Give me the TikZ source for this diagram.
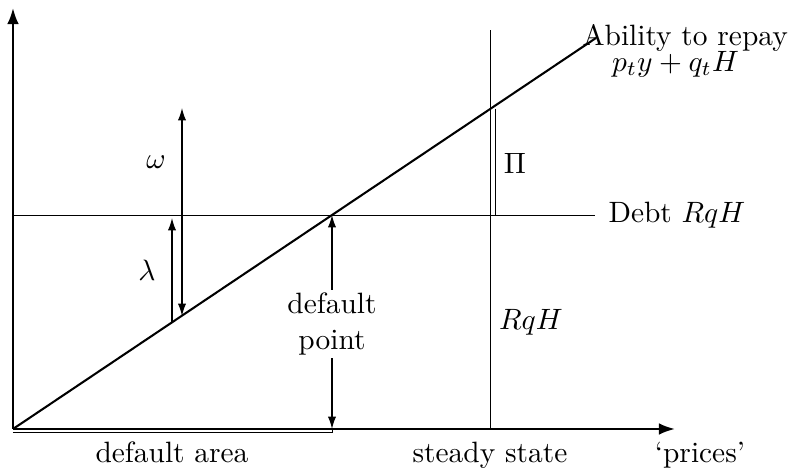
\documentclass[tikz,border=0pt]{standalone}
\usetikzlibrary{arrows.meta,calc}
\tikzset{axis/.style={line width=0.8pt,-{Latex[length=5.5pt,width=4pt]}},
  repay/.style={line width=0.7pt},
  level/.style={line width=0.3pt},
  dimarrow/.style={line width=0.45pt,-{Latex[length=4.2pt,width=2.8pt]}},
  twoway/.style={line width=0.45pt,{Latex[length=4.2pt,width=2.8pt]}-{Latex[length=4.2pt,width=2.8pt]}}}

\begin{document}
\begin{tikzpicture}[x=0.34pt,y=0.34pt]
\useasboundingbox (-13,-41) rectangle (780,429);
% axes and the ability to repay
\coordinate (O) at (0,0);
\coordinate (ytop) at (0,421);
\coordinate (xend) at (662,0);
\coordinate (A) at (583,391);
\draw[axis] (O) -- (ytop);
\draw[axis] (O) -- (xend);
\draw[repay] (O) -- (A);
% debt level and steady state
\coordinate (D) at (319,214);
\coordinate (dl) at (0,214);
\coordinate (dr) at (582,214);
\coordinate (ssb) at (477,0);
\coordinate (sst) at (477,399);
\coordinate (pitop) at (482,320);
\coordinate (pibot) at (482,214);
\coordinate (Dfoot) at (319,0);
\coordinate (al) at (0,-3);
\coordinate (ar) at (319,-3);
\draw[level] (dl) -- (dr);
\draw[level] (ssb) -- (sst);
\draw[level] (pitop) -- (pibot);
\draw[level] (al) -- (ar) -- (Dfoot);
% gaps
\coordinate (wbot) at (169,113);
\coordinate (wtop) at (169,321);
\coordinate (lbot) at (159,107);
\coordinate (ltop) at (159,211);
\draw[twoway] (wbot) -- (wtop);
\draw[dimarrow] (lbot) -- (ltop);
\node (omega) at (143,267) {$\omega$};
\node (lambda) at (134,159) {$\lambda$};
\node (pi) at (502,266) {$\Pi$};
\node (rqh) at (518,107) {$RqH$};
\node[align=center,inner sep=1pt] (dp) at (319,105) {default\\point};
\draw[dimarrow] (dp) -- (D);
\draw[dimarrow] (dp) -- (Dfoot);
% labels
\node[anchor=base west,inner sep=0pt] (debt) at (595,206) {Debt $RqH$};
\node[anchor=north west,inner sep=0pt,align=left] (ability) at (569,405) {Ability to repay\\[-3.2pt]\hspace{10pt}$p_ty+q_tH$};
\node[anchor=base] (area) at (159,-34) {default area};
\node[anchor=base] (steady) at (477,-34) {steady state};
\node[anchor=base] (prices) at (687,-34) {`prices'};
\end{tikzpicture}
\end{document}
